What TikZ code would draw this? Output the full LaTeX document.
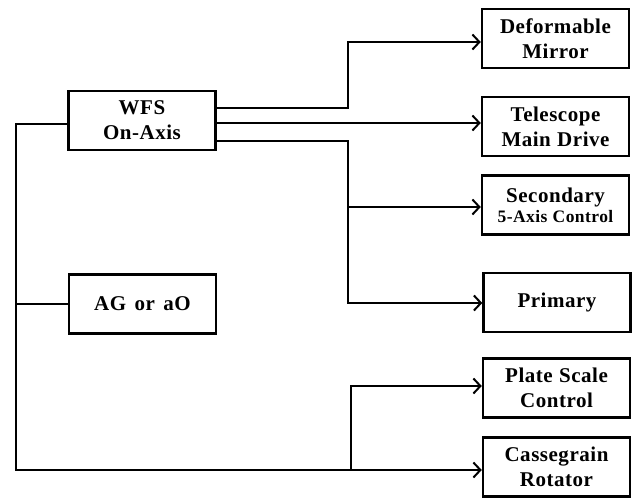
\documentclass[tikz,border=0pt]{standalone}
\usepackage{fontspec}
\setmainfont{Liberation Serif}[LetterSpace=2.5]
\usetikzlibrary{arrows.meta}
\tikzset{
  blk/.style={draw, line width=2.4pt, minimum width=147pt, minimum height=59pt,
    inner sep=0pt, align=center, font=\bfseries\fontsize{21}{25}\selectfont},
  conn/.style={line width=1.9pt},
  arr/.style={conn, -{Straight Barb[length=7pt,width=15pt,line width=2pt]}}
}
\begin{document}
\begin{tikzpicture}[x=1pt,y=-1pt]
\useasboundingbox[fill=white] (0,0) rectangle (634,498);
% left boxes
\node[blk] (wfs) at (142,120.5) {WFS\\On-Axis};
\node[blk] (ag) at (142.5,304) {AG\hspace{0.4em}or\hspace{0.4em}aO};
% right boxes
\node[blk] (dm) at (555.5,38.5) {Deformable\\Mirror};
\node[blk] (tel) at (555.5,126.5) {Telescope\\Main\hspace{0.3em}Drive};
\node[blk] (sec) at (555.5,205) {Secondary\\[-5pt]{\fontsize{17.5}{19}\selectfont 5-Axis\hspace{0.3em}Control}};
\node[blk] (pri) at (557,302.5) {Primary};
\node[blk] (pla) at (556.5,388) {Plate\hspace{0.3em}Scale\\Control};
\node[blk] (cas) at (556.5,467) {Cassegrain\\Rotator};
% junction coordinates
\coordinate (j1) at (348,108);
\coordinate (j2) at (348,141);
\coordinate (j3) at (348,207);
\coordinate (lt) at (16,124);
\coordinate (lb) at (16,470);
\coordinate (j4) at (351,470);
% connectors from WFS
\draw[arr] (wfs.east |- j1) -- (j1) |- (dm.west |- 0,42);
\draw[arr] (wfs.east |- 0,123) -- (tel.west |- 0,123);
\draw[arr] (wfs.east |- j2) -- (j2) -- (j3) -- (sec.west |- j3);
\draw[arr] (j3) |- (pri.west |- 0,303);
% left bus
\draw[conn] (wfs.west |- lt) -- (lt) -- (lb) -- (j4);
\draw[conn] (ag.west) -- (ag.west -| lt);
\draw[arr] (j4) -- (cas.west |- j4);
\draw[arr] (j4) |- (pla.west |- 0,386);
\end{tikzpicture}
\end{document}
